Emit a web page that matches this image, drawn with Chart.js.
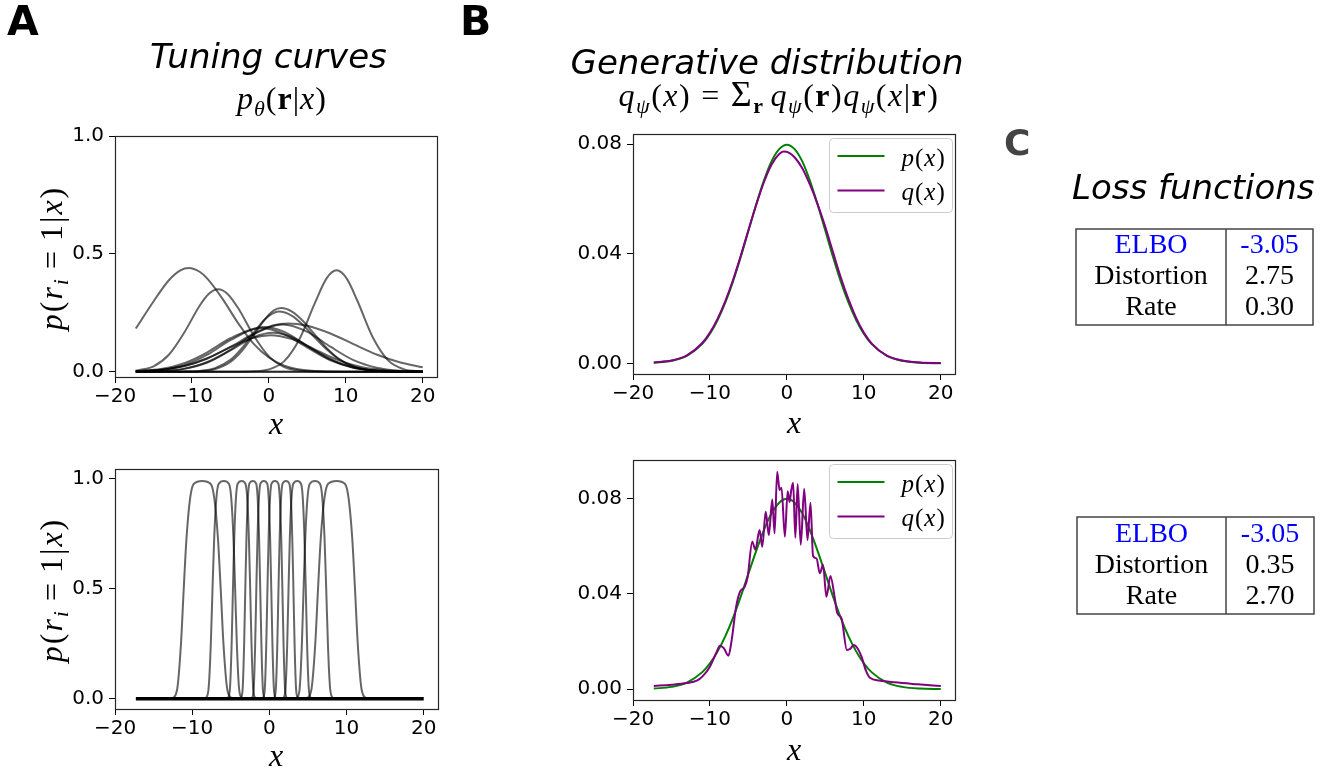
<!DOCTYPE html>
<html>
<head>
<meta charset="utf-8">
<script src="https://cdn.jsdelivr.net/npm/chart.js@4.4.1/dist/chart.umd.min.js"></script>
<style>
  html, body { margin: 0; padding: 0; background: #fff; }
  #page { position: relative; width: 1333px; height: 776px; overflow: hidden; background: #fff; }
  #page canvas { position: absolute; }
  #overlay { position: absolute; left: 0; top: 0; pointer-events: none; }
</style>
</head>
<body>
<div id="page">
  <canvas id="tuningSmooth"></canvas>
  <canvas id="densitySmooth"></canvas>
  <canvas id="tuningSharp"></canvas>
  <canvas id="densitySharp"></canvas>
  <svg id="overlay" width="1333" height="776" xmlns="http://www.w3.org/2000/svg">
    <!-- panel letters -->
    <text x="7" y="35" font-family="DejaVu Sans" font-weight="bold" font-size="41" fill="#000">A</text>
    <text x="460" y="35" font-family="DejaVu Sans" font-weight="bold" font-size="41" fill="#000">B</text>
    <text x="1004" y="155" font-family="DejaVu Sans" font-weight="bold" font-size="36" fill="#444">C</text>

    <!-- column titles -->
    <text x="150" y="68" font-family="DejaVu Sans" font-style="italic" font-size="34" fill="#000">Tuning curves</text>
    <text x="767" y="74" text-anchor="middle" font-family="DejaVu Sans" font-style="italic" font-size="34" fill="#000">Generative distribution</text>
    <text x="1072" y="199" font-family="DejaVu Sans" font-style="italic" font-size="34" fill="#000">Loss functions</text>

    <!-- formulas under the titles -->
    <text x="282" y="109" text-anchor="middle" font-family="Liberation Serif" font-size="32" letter-spacing="1" fill="#000"><tspan font-style="italic">p</tspan><tspan font-style="italic" font-size="22" dy="7">θ</tspan><tspan dy="-7">(</tspan><tspan font-weight="bold">r</tspan><tspan>|</tspan><tspan font-style="italic">x</tspan><tspan>)</tspan></text>
    <text x="779" y="106" text-anchor="middle" font-family="Liberation Serif" font-size="32" letter-spacing="1.5" fill="#000"><tspan font-style="italic">q</tspan><tspan font-style="italic" font-size="22" dy="7">ψ</tspan><tspan dy="-7">(</tspan><tspan font-style="italic">x</tspan><tspan>)</tspan><tspan dx="10">=</tspan><tspan dx="10" font-size="36">Σ</tspan><tspan font-weight="bold" font-size="22" dy="7">r</tspan><tspan font-style="italic" dy="-7" dx="6">q</tspan><tspan font-style="italic" font-size="22" dy="7">ψ</tspan><tspan dy="-7">(</tspan><tspan font-weight="bold">r</tspan><tspan>)</tspan><tspan font-style="italic">q</tspan><tspan font-style="italic" font-size="22" dy="7">ψ</tspan><tspan dy="-7">(</tspan><tspan font-style="italic">x</tspan><tspan>|</tspan><tspan font-weight="bold">r</tspan><tspan>)</tspan></text>

    <!-- y axis labels -->
    <text transform="translate(62,258) rotate(-90)" text-anchor="middle" font-family="Liberation Serif" font-size="32" letter-spacing="2" fill="#000"><tspan font-style="italic">p</tspan><tspan>(</tspan><tspan font-style="italic">r</tspan><tspan font-style="italic" font-size="22" dy="6">i</tspan><tspan dy="-6" dx="8">=</tspan><tspan dx="8">1|</tspan><tspan font-style="italic">x</tspan><tspan>)</tspan></text>
    <text transform="translate(62,590) rotate(-90)" text-anchor="middle" font-family="Liberation Serif" font-size="32" letter-spacing="2" fill="#000"><tspan font-style="italic">p</tspan><tspan>(</tspan><tspan font-style="italic">r</tspan><tspan font-style="italic" font-size="22" dy="6">i</tspan><tspan dy="-6" dx="8">=</tspan><tspan dx="8">1|</tspan><tspan font-style="italic">x</tspan><tspan>)</tspan></text>

    <!-- x axis labels -->
    <text x="276" y="434" text-anchor="middle" font-family="Liberation Serif" font-style="italic" font-size="32" fill="#000">x</text>
    <text x="794" y="433" text-anchor="middle" font-family="Liberation Serif" font-style="italic" font-size="32" fill="#000">x</text>
    <text x="276" y="766" text-anchor="middle" font-family="Liberation Serif" font-style="italic" font-size="32" fill="#000">x</text>
    <text x="794" y="760" text-anchor="middle" font-family="Liberation Serif" font-style="italic" font-size="32" fill="#000">x</text>

    <g id="lossTables"></g>
  </svg>
</div>

<script>
// ---------- axis ticks ----------
const X_TICKS = [-20, -10, 0, 10, 20];
const Y_TICKS_RESPONSE = [0, 0.5, 1.0];
const Y_TICKS_DENSITY = [0, 0.04, 0.08];

// ---------- panel A, top: broad tuning curves, [x, p(r_i=1|x)] ----------
const WIDE_1 = [[-17.3,0.183],[-15,0.298],[-13,0.388],[-11.5,0.430],[-10.4,0.440],[-9,0.424],[-8,0.395],[-6,0.308],[-4,0.206],[-2,0.119],[0,0.060],[2,0.026],[4,0.0096],[7,0.0016],[10,0.0002],[20,0]];
const WIDE_2 = [[-17.3,0.004],[-15,0.023],[-13,0.072],[-11,0.166],[-9,0.280],[-7.8,0.331],[-6.6,0.350],[-5.4,0.331],[-4,0.270],[-2,0.155],[0,0.065],[2,0.020],[4,0.005],[7,0.0003],[20,0]];
const WIDE_3 = [[-17.3,0],[-4,0.0001],[-2,0.0015],[0,0.0098],[2,0.045],[4,0.140],[6,0.293],[7.5,0.396],[8.8,0.430],[10.1,0.396],[11.5,0.301],[13.5,0.146],[15.5,0.048],[17.5,0.011],[20,0.001]];
const WIDE_4 = [[-17.3,0],[-11,0.0003],[-9,0.002],[-7,0.011],[-5,0.041],[-3.5,0.088],[-2,0.154],[-0.5,0.223],[0.6,0.259],[1.6,0.270],[3,0.255],[4.5,0.213],[6,0.156],[7.5,0.101],[9,0.057],[11,0.022],[13,0.0068],[16,0.0008],[20,0]];
const WIDE_5 = [[-17.3,0],[-11,0.0008],[-9,0.0034],[-7,0.0153],[-5,0.050],[-3.5,0.100],[-2,0.164],[-0.5,0.223],[1.3,0.255],[3,0.237],[4.5,0.196],[6,0.144],[7.5,0.095],[9,0.055],[11,0.022],[13,0.0074],[16,0.001],[20,0]];
const WIDE_6 = [[-17.3,0.002],[-14,0.008],[-11,0.024],[-8,0.056],[-5,0.105],[-2,0.161],[0.5,0.196],[2.5,0.205],[5,0.195],[8,0.162],[11,0.117],[14,0.073],[17,0.040],[20,0.019]];
const WIDE_7 = [[-17.3,0.0005],[-14,0.003],[-11,0.013],[-8,0.041],[-5,0.093],[-2,0.158],[1.8,0.200],[5,0.169],[8,0.106],[11,0.049],[14,0.017],[17,0.004],[20,0.001]];
const WIDE_8 = [[-17.3,0.0023],[-14,0.011],[-11,0.036],[-8,0.082],[-5,0.142],[-1,0.185],[2,0.159],[5,0.102],[8,0.048],[11,0.017],[14,0.0045],[17,0.0008],[20,0]];
const WIDE_9 = [[-17.3,0.0013],[-14,0.0078],[-11,0.028],[-8,0.072],[-5,0.134],[-0.6,0.190],[2,0.169],[5,0.109],[8,0.051],[11,0.017],[14,0.0043],[17,0.0007],[20,0]];
const WIDE_10 = [[-17.3,0.0003],[-14,0.0025],[-11,0.012],[-8,0.039],[-5,0.090],[-2,0.146],[0.5,0.165],[3,0.146],[6,0.090],[9,0.039],[12,0.012],[15,0.0025],[20,0]];
const WIDE_11 = [[-17.3,0.0016],[-14,0.0077],[-11,0.024],[-8,0.057],[-5,0.104],[-2,0.144],[0.2,0.155],[3,0.138],[6,0.094],[9,0.049],[12,0.020],[15,0.006],[18,0.0014],[20,0.0006]];
const WIDE_12 = [[-17.3,0],[20,0]];
const WIDE_13 = [[-17.3,0],[20,0]];

// ---------- panel A, bottom: sharp plateau tuning curves ----------
// every curve passes through the same response levels at its own x positions
const PLATEAU_LEVELS = [0, 0.044, 0.245, 0.495, 0.728, 0.913, 0.977, 0.99, 0.977, 0.913, 0.728, 0.495, 0.245, 0.044, 0];
const SHARP_1  = [-12.54,-11.94,-11.46,-11.1,-10.74,-10.26,-9.78,-8.7,-7.62,-7.14,-6.66,-6.3,-5.94,-5.46,-4.86];
const SHARP_2  = [-8.25,-7.88,-7.59,-7.37,-7.15,-6.86,-6.56,-5.9,-5.24,-4.94,-4.65,-4.43,-4.21,-3.92,-3.55];
const SHARP_3  = [-5.39,-5.11,-4.89,-4.72,-4.55,-4.33,-4.1,-3.6,-3.1,-2.87,-2.65,-2.48,-2.31,-2.09,-1.81];
const SHARP_4  = [-3.7,-3.46,-3.27,-3.12,-2.97,-2.78,-2.59,-2.15,-1.71,-1.52,-1.33,-1.18,-1.03,-0.84,-0.6];
const SHARP_5  = [-2.27,-2.03,-1.84,-1.69,-1.54,-1.35,-1.16,-0.72,-0.28,-0.09,0.1,0.25,0.4,0.59,0.83];
const SHARP_6  = [-0.83,-0.59,-0.4,-0.25,-0.1,0.09,0.28,0.72,1.16,1.35,1.54,1.69,1.84,2.03,2.27];
const SHARP_7  = [0.6,0.84,1.03,1.18,1.33,1.52,1.71,2.15,2.59,2.78,2.97,3.12,3.27,3.46,3.7];
const SHARP_8  = [1.81,2.09,2.31,2.48,2.65,2.87,3.1,3.6,4.1,4.33,4.55,4.72,4.89,5.11,5.39];
const SHARP_9  = [3.55,3.92,4.21,4.43,4.65,4.94,5.24,5.9,6.56,6.86,7.15,7.37,7.59,7.88,8.25];
const SHARP_10 = [4.86,5.46,5.94,6.3,6.66,7.14,7.62,8.7,9.78,10.26,10.74,11.1,11.46,11.94,12.54];
const SILENT_BASELINE = [[-17.3,0],[20,0]];

// ---------- panel B: data density p(x) and model densities q(x) ----------
const P_X = [-17.3,-15,-13,-11,-10,-9,-8,-7,-6,-5,-4,-3,-2,-1,0,1,2,3,4,5,6,7,8,9,10,11,13,15,17.3,20];
const P_Y = [0.0002,0.0009,0.0027,0.0071,0.0108,0.0158,0.0222,0.0299,0.0388,0.0484,0.0579,0.0666,0.0737,0.0782,0.0798,0.0782,0.0737,0.0666,0.0579,0.0484,0.0388,0.0299,0.0222,0.0158,0.0108,0.0071,0.0027,0.0009,0.0002,0.00003];
const Q_SMOOTH = [[-17.3,0.0003],[-15,0.0010],[-13,0.0029],[-11,0.0074],[-10,0.0112],[-9,0.0163],[-8,0.0227],[-7,0.0304],[-6,0.0392],[-5,0.0486],[-4,0.0577],[-3,0.0660],[-2,0.0725],[-1,0.0764],[-0.4,0.0773],[0.3,0.0768],[1,0.0752],[2,0.0712],[3,0.0652],[4,0.0580],[5,0.0497],[6,0.0405],[7,0.0314],[8,0.0234],[9,0.0166],[10,0.0112],[11,0.0073],[13,0.0028],[15,0.0010],[17.3,0.0003],[20,0.0001]];
const Q_SHARP = [[-17.3,0.0013],[-15,0.0018],[-13,0.0025],[-11.7,0.0035],[-11,0.0052],[-10,0.0094],[-9.2,0.0150],[-8.7,0.0182],[-8.2,0.0172],[-7.6,0.0140],[-7.2,0.0200],[-6.6,0.0345],[-6.1,0.0408],[-5.5,0.0428],[-5.1,0.0470],[-4.5,0.0618],[-4.1,0.0585],[-3.55,0.0667],[-3.2,0.0597],[-2.75,0.0744],[-2.35,0.0646],[-1.9,0.0795],[-1.6,0.0653],[-1.26,0.0912],[-0.95,0.0835],[-0.7,0.0845],[-0.26,0.0639],[0.1,0.0830],[0.35,0.0785],[0.55,0.0830],[0.81,0.0866],[1.1,0.0635],[1.4,0.0860],[1.8,0.0605],[2.25,0.0840],[2.68,0.0625],[3.07,0.0782],[3.4,0.0558],[3.85,0.0548],[4.28,0.0486],[4.7,0.0520],[5.14,0.0387],[5.66,0.0474],[6.2,0.0387],[6.55,0.0318],[7.1,0.0297],[7.8,0.0164],[8.2,0.0168],[8.7,0.0185],[9.2,0.0170],[9.7,0.0136],[10.3,0.0075],[10.8,0.0047],[12,0.0036],[14,0.0028],[17,0.0020],[20,0.0013]];

// ---------- panel C: loss tables ----------
const LOSS_TERMS = ['ELBO', 'Distortion', 'Rate'];
const LOSS_SMOOTH = ['-3.05', '2.75', '0.30'];
const LOSS_SHARP = ['-3.05', '0.35', '2.70'];

// ---------- helpers ----------
const pairs = arr => arr.map(([x, y]) => ({ x, y }));
const zipXY = (xs, ys) => xs.map((x, i) => ({ x, y: ys[i] }));
const fmtX = v => (v < 0 ? '\u2212' + Math.abs(v) : String(v));
const TICK_FONT = { family: 'DejaVu Sans', size: 20 };
const CURVE_GREY = 'rgba(0,0,0,0.6)';
const GREEN = '#008000';
const PURPLE = '#800080';

// box around the plotting area (all four spines)
const framePlugin = {
  id: 'frame',
  afterDraw(chart) {
    const { ctx, chartArea: a } = chart;
    ctx.save();
    ctx.strokeStyle = '#262626';
    ctx.lineWidth = 1.2;
    ctx.strokeRect(Math.round(a.left) + 0.5, Math.round(a.top) + 0.5,
      Math.round(a.right - a.left), Math.round(a.bottom - a.top));
    ctx.restore();
  }
};

// italic letters, upright punctuation
function drawMathLabel(ctx, s, x, y) {
  ctx.textBaseline = 'middle';
  ctx.fillStyle = '#000';
  for (const ch of s) {
    ctx.font = (/[a-z]/.test(ch) ? 'italic ' : '') + '25px "Liberation Serif"';
    ctx.fillText(ch, x, y);
    x += ctx.measureText(ch).width + 1;
  }
}

// legend in the upper right corner of the plotting area
const legendPlugin = {
  id: 'cornerLegend',
  afterDraw(chart) {
    const items = chart.data.datasets.filter(d => d.label);
    if (!items.length) return;
    const { ctx, chartArea: a } = chart;
    const w = 123, h = 74;
    const x0 = Math.round(a.right - 3 - w) + 0.5, y0 = Math.round(a.top + 4) + 0.5;
    ctx.save();
    ctx.beginPath();
    if (ctx.roundRect) ctx.roundRect(x0, y0, w, h, 4); else ctx.rect(x0, y0, w, h);
    ctx.fillStyle = 'rgba(255,255,255,0.8)';
    ctx.fill();
    ctx.strokeStyle = '#cccccc';
    ctx.lineWidth = 1;
    ctx.stroke();
    items.forEach((d, i) => {
      const y = y0 + 17.5 + i * 34.5;
      ctx.strokeStyle = d.borderColor;
      ctx.lineWidth = 2;
      ctx.beginPath();
      ctx.moveTo(x0 + 8, y);
      ctx.lineTo(x0 + 55, y);
      ctx.stroke();
      drawMathLabel(ctx, d.label, x0 + 72, y + 3);
    });
    ctx.restore();
  }
};

function buildChart(id, area, yRange, yTicks, yDigits, datasets) {
  const AXW = 90, AXH = 40, PAD = 24;
  const cv = document.getElementById(id);
  const w = AXW + (area.R - area.L) + PAD;
  const h = PAD + (area.B - area.T) + AXH;
  cv.width = w; cv.height = h;
  cv.style.left = (area.L - AXW) + 'px';
  cv.style.top = (area.T - PAD) + 'px';
  cv.style.width = w + 'px';
  cv.style.height = h + 'px';
  const tickGrid = { drawOnChartArea: false, drawTicks: true, tickLength: 6, color: '#000', lineWidth: 1 };
  return new Chart(cv, {
    type: 'line',
    data: { datasets },
    options: {
      responsive: false,
      animation: false,
      devicePixelRatio: 1,
      events: [],
      layout: { padding: { left: 0, right: PAD, top: PAD, bottom: 0 } },
      plugins: { legend: { display: false }, tooltip: { enabled: false } },
      elements: {
        point: { radius: 0 },
        line: { borderWidth: 2, cubicInterpolationMode: 'monotone', fill: false }
      },
      scales: {
        x: {
          type: 'linear', min: -20, max: 21.85,
          afterFit(s) { s.height = AXH; },
          afterBuildTicks(s) { s.ticks = X_TICKS.map(v => ({ value: v })); },
          grid: tickGrid,
          border: { display: false },
          ticks: { font: TICK_FONT, color: '#000', padding: 2, maxRotation: 0, autoSkip: false, callback: fmtX }
        },
        y: {
          type: 'linear', min: yRange[0], max: yRange[1],
          afterFit(s) { s.width = AXW; },
          afterBuildTicks(s) { s.ticks = yTicks.map(v => ({ value: v })); },
          grid: tickGrid,
          border: { display: false },
          ticks: { font: TICK_FONT, color: '#000', padding: 5, autoSkip: false, callback: v => v.toFixed(yDigits) }
        }
      }
    },
    plugins: [framePlugin, legendPlugin]
  });
}

const greyLine = pts => ({ data: pts, borderColor: CURVE_GREY, borderWidth: 2 });

// A top
buildChart('tuningSmooth', { L: 115, T: 136, R: 437, B: 377 }, [-0.0225, 1.0], Y_TICKS_RESPONSE, 1,
  [WIDE_1, WIDE_2, WIDE_3, WIDE_4, WIDE_5, WIDE_6, WIDE_7, WIDE_8, WIDE_9, WIDE_10, WIDE_11, WIDE_12, WIDE_13]
    .map(c => greyLine(pairs(c))));

// A bottom
buildChart('tuningSharp', { L: 115, T: 469, R: 438, B: 709 }, [-0.047, 1.044], Y_TICKS_RESPONSE, 1,
  [{ data: pairs(SILENT_BASELINE), borderColor: '#000', borderWidth: 3.5 }].concat(
    [SHARP_1, SHARP_2, SHARP_3, SHARP_4, SHARP_5, SHARP_6, SHARP_7, SHARP_8, SHARP_9, SHARP_10]
      .map(xs => greyLine(zipXY(xs, PLATEAU_LEVELS)))));

// B top
buildChart('densitySmooth', { L: 633, T: 134, R: 955, B: 374 }, [-0.0039, 0.0837], Y_TICKS_DENSITY, 2, [
  { label: 'p(x)', data: zipXY(P_X, P_Y), borderColor: GREEN },
  { label: 'q(x)', data: pairs(Q_SMOOTH), borderColor: PURPLE, order: -1 }
]);

// B bottom
buildChart('densitySharp', { L: 633, T: 460, R: 955, B: 700 }, [-0.0046, 0.0961], Y_TICKS_DENSITY, 2, [
  { label: 'p(x)', data: zipXY(P_X, P_Y), borderColor: GREEN },
  { label: 'q(x)', data: pairs(Q_SHARP), borderColor: PURPLE, order: -1 }
]);

// C: loss tables
(function drawTables() {
  const NS = 'http://www.w3.org/2000/svg';
  const g = document.getElementById('lossTables');
  const el = (tag, attrs, text) => {
    const e = document.createElementNS(NS, tag);
    for (const k in attrs) e.setAttribute(k, attrs[k]);
    if (text !== undefined) e.textContent = text;
    g.appendChild(e);
    return e;
  };
  const tables = [
    { values: LOSS_SMOOTH, x: 1076, y: 229, w: 237, h: 96, baselines: [252.5, 284, 315] },
    { values: LOSS_SHARP, x: 1077, y: 517, w: 237, h: 97, baselines: [541.5, 572.5, 603.5] }
  ];
  const divider = 1226;
  tables.forEach(t => {
    el('rect', { x: t.x, y: t.y, width: t.w, height: t.h, fill: 'none', stroke: '#444', 'stroke-width': 1.5 });
    el('line', { x1: divider, y1: t.y, x2: divider, y2: t.y + t.h, stroke: '#444', 'stroke-width': 1.5 });
    LOSS_TERMS.forEach((name, i) => {
      const color = i === 0 ? '#0000ff' : '#000';
      const common = { 'font-family': 'Liberation Serif', 'font-size': 28, 'text-anchor': 'middle', fill: color, y: t.baselines[i] };
      el('text', Object.assign({ x: (t.x + divider) / 2 }, common), name);
      el('text', Object.assign({ x: (divider + t.x + t.w) / 2 }, common), t.values[i]);
    });
  });
})();
</script>
</body>
</html>
